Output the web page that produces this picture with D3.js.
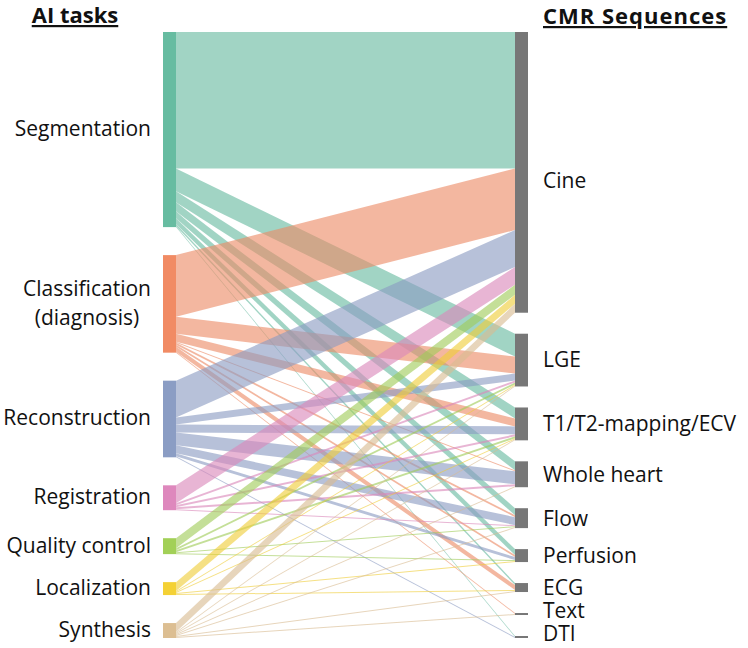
<!DOCTYPE html>
<html>
<head>
<meta charset="utf-8">
<script src="https://cdn.jsdelivr.net/npm/d3@7"></script>
<style>
  body { margin: 0; background: #fff; }
  text { font-family: "Open Sans", sans-serif; fill: #111; }
</style>
</head>
<body>
<div id="chart"></div>
<script>
const tasks = ["Segmentation", "Classification (diagnosis)", "Reconstruction", "Registration", "Quality control", "Localization", "Synthesis"];
const sequences = ["Cine", "LGE", "T1/T2-mapping/ECV", "Whole heart", "Flow", "Perfusion", "ECG", "Text", "DTI"];

// studies per task, one value for each sequence (same order as sequences)
const segmentation   = [137, 23, 11,  9, 7, 6, 2, 0, 1];
const classification = [ 62, 17,  8,  1, 2, 2, 5, 1, 0];
const reconstruction = [ 37,  7,  8, 13, 8, 3, 0, 0, 1];
const registration   = [ 18,  2,  2,  2, 1, 0, 0, 0, 0];
const qualityControl = [ 10,  2,  2,  0, 1, 1, 0, 0, 0];
const localization   = [  9,  1,  1,  0, 0, 1, 1, 0, 0];
const synthesis      = [  9,  1,  1,  1, 1, 0, 1, 1, 0];

const flows = [segmentation, classification, reconstruction, registration, qualityControl, localization, synthesis];
const taskColors = ["#66c2a5", "#fc8d62", "#8da0cb", "#e78ac3", "#a6d854", "#ffd92f", "#e5c494"];

drawSankey();

function drawSankey() {

  const width = 748, height = 648;
  const top = 32, bottom = 638;
  const leftX = 163, rightX = 515, nodeW = 13;
  const leftPad = 28;
  const fontSize = 21;

  const svg = d3.select("#chart").append("svg")
                .attr("width", width)
                .attr("height", height);

  const taskTotals = flows.map(row => d3.sum(row));
  const seqTotals = sequences.map((s, j) => d3.sum(flows, row => row[j]));
  const total = d3.sum(taskTotals);

  const ky = d3.scaleLinear()
               .domain([0, total])
               .range([0, (bottom - top) - leftPad * (tasks.length - 1)]);

  function stack(totals) {
    const pad = ((bottom - top) - ky(d3.sum(totals))) / (totals.length - 1);
    let y = top;
    return totals.map(v => {
      const n = {y0: y, y1: y + ky(v)};
      y = n.y1 + pad;
      return n;
    });
  }

  const left = stack(taskTotals);
  const right = stack(seqTotals);

  // build the links with their offsets in both nodes
  const links = [];
  const srcOff = left.map(n => n.y0);
  const tgtOff = right.map(n => n.y0);
  flows.forEach((row, i) => {
    row.forEach((v, j) => {
      if (v <= 0) return;
      links.push({i: i, j: j, sy0: srcOff[i], sy1: srcOff[i] + ky(v), ty0: 0, ty1: 0});
      srcOff[i] += ky(v);
    });
  });
  // target side ordered by task
  sequences.forEach((s, j) => {
    links.filter(l => l.j === j).sort((a, b) => a.i - b.i).forEach(l => {
      l.ty0 = tgtOff[j];
      l.ty1 = tgtOff[j] + (l.sy1 - l.sy0);
      tgtOff[j] = l.ty1;
    });
  });

  const x0 = leftX + nodeW, x1 = rightX;
  const linkColor = i => d3.interpolateRgb(taskColors[i], "#777777")(0.12);

  svg.append("g")
    .selectAll("path")
    .data(links)
    .enter()
    .append("path")
    .attr("d", l => "M" + x0 + "," + l.sy0 + "L" + x1 + "," + l.ty0 +
                    "L" + x1 + "," + l.ty1 + "L" + x0 + "," + l.sy1 + "Z")
    .style("fill", l => linkColor(l.i))
    .style("fill-opacity", 0.62);

  // task nodes
  svg.append("g")
    .selectAll("rect")
    .data(left)
    .enter()
    .append("rect")
    .attr("x", leftX)
    .attr("y", d => d.y0)
    .attr("width", nodeW)
    .attr("height", d => Math.max(1, d.y1 - d.y0))
    .style("fill", (d, i) => d3.interpolateRgb(taskColors[i], "#777777")(0.08));

  // sequence nodes
  svg.append("g")
    .selectAll("rect")
    .data(right)
    .enter()
    .append("rect")
    .attr("x", rightX)
    .attr("y", d => d.y0)
    .attr("width", nodeW)
    .attr("height", d => Math.max(1.5, d.y1 - d.y0))
    .style("fill", "#777777");

  // task labels
  svg.append("g")
    .selectAll("text")
    .data(tasks)
    .enter()
    .append("text")
    .attr("font-size", fontSize)
    .each(function(t, i) {
      const cy = (left[i].y0 + left[i].y1) / 2;
      const el = d3.select(this);
      if (t.indexOf(" (") > 0) {
        const parts = t.split(" ");
        el.attr("text-anchor", "middle");
        el.append("tspan").attr("x", 87).attr("y", cy - 15).attr("dy", "0.35em").text(parts[0]);
        el.append("tspan").attr("x", 87).attr("y", cy + 14).attr("dy", "0.35em").text(parts[1]);
      } else {
        el.attr("text-anchor", "end")
          .attr("x", 151)
          .attr("y", cy - 1)
          .attr("dy", "0.35em")
          .text(t);
      }
    });

  // sequence labels (Cine sits a bit lower than its node centre in the original)
  const labelShift = {"Cine": 8, "ECG": 0, "Text": -3, "DTI": -3};
  svg.append("g")
    .selectAll("text")
    .data(sequences)
    .enter()
    .append("text")
    .attr("font-size", fontSize)
    .attr("x", 543)
    .attr("y", (s, j) => (right[j].y0 + right[j].y1) / 2 + (labelShift[s] || 0))
    .attr("dy", "0.35em")
    .text(s => s);

  // column headers
  svg.append("text")
    .attr("x", 75).attr("y", 23)
    .attr("text-anchor", "middle")
    .attr("font-size", 22).attr("font-weight", "bold")
    .style("text-decoration", "underline")
    .text("AI tasks");

  svg.append("text")
    .attr("x", 543).attr("y", 24)
    .attr("font-size", 22).attr("font-weight", "bold")
    .style("letter-spacing", "1px")
    .style("text-decoration", "underline")
    .text("CMR Sequences");
}
</script>
</body>
</html>
